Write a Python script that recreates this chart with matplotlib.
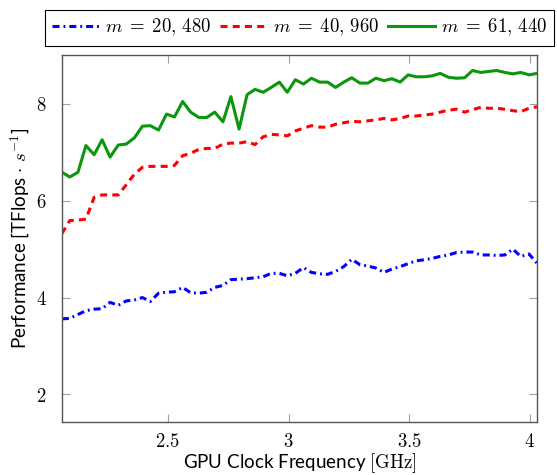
#!/usr/bin/env python3
"""
Sustained performance of the kernel vs GPU clock frequency,
for three problem sizes m.
"""

import matplotlib
matplotlib.use('Agg')
import matplotlib.pyplot as plt
from matplotlib.ticker import FuncFormatter

# GPU clock frequency [GHz]
freq_ghz = [
    2.060, 2.093, 2.127, 2.160, 2.194, 2.227, 2.260, 2.294, 2.327, 2.361,
    2.394, 2.427, 2.461, 2.494, 2.527, 2.561, 2.594, 2.628, 2.661, 2.694,
    2.728, 2.761, 2.795, 2.828, 2.861, 2.895, 2.928, 2.962, 2.995, 3.028,
    3.062, 3.095, 3.129, 3.162, 3.195, 3.229, 3.262, 3.296, 3.329, 3.362,
    3.396, 3.429, 3.463, 3.496, 3.529, 3.563, 3.596, 3.629, 3.663, 3.696,
    3.730, 3.763, 3.797, 3.830, 3.863, 3.897, 3.930, 3.963, 3.997, 4.030,
]

# measured TFlops/s
perf_m20480 = [
    3.56, 3.57, 3.65, 3.73, 3.76, 3.77, 3.90, 3.84, 3.93, 3.95,
    4.00, 3.92, 4.09, 4.11, 4.12, 4.21, 4.10, 4.09, 4.11, 4.21,
    4.25, 4.37, 4.38, 4.39, 4.41, 4.43, 4.50, 4.50, 4.45, 4.50,
    4.62, 4.52, 4.49, 4.48, 4.54, 4.64, 4.79, 4.68, 4.65, 4.61,
    4.52, 4.59, 4.64, 4.70, 4.76, 4.78, 4.81, 4.85, 4.88, 4.93,
    4.94, 4.94, 4.88, 4.88, 4.87, 4.88, 5.00, 4.85, 4.90, 4.71,
]

perf_m40960 = [
    5.32, 5.59, 5.60, 5.62, 6.07, 6.12, 6.12, 6.12, 6.33, 6.55,
    6.69, 6.71, 6.71, 6.71, 6.73, 6.93, 6.98, 7.06, 7.08, 7.08,
    7.17, 7.19, 7.19, 7.22, 7.16, 7.32, 7.37, 7.36, 7.34, 7.44,
    7.50, 7.55, 7.52, 7.52, 7.58, 7.61, 7.64, 7.63, 7.65, 7.67,
    7.70, 7.67, 7.70, 7.75, 7.75, 7.77, 7.79, 7.83, 7.87, 7.89,
    7.83, 7.88, 7.93, 7.91, 7.91, 7.89, 7.86, 7.84, 7.91, 7.94,
]

perf_m61440 = [
    6.59, 6.49, 6.59, 7.14, 6.95, 7.26, 6.90, 7.15, 7.17, 7.30,
    7.54, 7.55, 7.46, 7.79, 7.73, 8.05, 7.83, 7.72, 7.72, 7.83,
    7.63, 8.15, 7.48, 8.19, 8.30, 8.24, 8.34, 8.45, 8.24, 8.50,
    8.41, 8.53, 8.45, 8.45, 8.34, 8.45, 8.54, 8.43, 8.43, 8.53,
    8.48, 8.52, 8.45, 8.60, 8.56, 8.56, 8.58, 8.63, 8.55, 8.53,
    8.54, 8.69, 8.65, 8.67, 8.69, 8.65, 8.62, 8.65, 8.60, 8.63,
]

labels = [r'$m \;=\; 20,\,480$', r'$m \;=\; 40,\,960$', r'$m \;=\; 61,\,440$']
x_ticks = [2.5, 3.0, 3.5, 4.0]
y_ticks = [2, 4, 6, 8]


def math_fmt(v, pos):
    return r'$%g$' % v


def main():
    plt.rcParams['mathtext.fontset'] = 'cm'
    plt.rcParams['font.family'] = ['Lato', 'DejaVu Sans']

    fig = plt.figure(figsize=(5.57, 4.75), dpi=100)
    # axes box: x 62..537 px, y 55..422 px
    ax = fig.add_axes([0.111, 0.1116, 0.853, 0.7726])

    lw = 2.2
    ax.plot(freq_ghz, perf_m20480, color='#0000ff', linewidth=lw,
            dashes=(2.3, 1.3, 0.6, 1.3), label=labels[0])
    ax.plot(freq_ghz, perf_m40960, color='#ff0000', linewidth=lw,
            dashes=(2.3, 1.7), label=labels[1])
    ax.plot(freq_ghz, perf_m61440, color='#0c960c', linewidth=lw,
            linestyle='-', label=labels[2])

    ax.set_xlim(freq_ghz[0], freq_ghz[-1])
    ax.set_ylim(1.43, 9.01)
    ax.set_xticks(x_ticks)
    ax.set_yticks(y_ticks)
    ax.xaxis.set_major_formatter(FuncFormatter(math_fmt))
    ax.yaxis.set_major_formatter(FuncFormatter(math_fmt))
    ax.tick_params(direction='in', length=6, width=0.8, color='#a0a0a0',
                   top=True, right=True, labelsize=13.5)
    ax.tick_params(axis='x', pad=7)
    ax.tick_params(axis='y', pad=11)

    for s in ax.spines.values():
        s.set_color('#555555')
        s.set_linewidth(1.0)

    ax.set_xlabel(r'GPU Clock Frequency $[\mathrm{GHz}]$', fontsize=13.5,
                  labelpad=1)
    ax.set_ylabel(r'Performance [TFlops $\cdot\ s^{-1}$]', fontsize=13.5,
                  labelpad=3)

    leg = ax.legend(loc='lower center', bbox_to_anchor=(0.5, 1.025), ncol=3,
                    fontsize=13.5, frameon=True, fancybox=False,
                    edgecolor='black', framealpha=1.0, handlelength=2.5,
                    handletextpad=0.3, columnspacing=0.5, borderpad=0.4,
                    borderaxespad=0.0)
    leg.get_frame().set_linewidth(0.8)

    fig.savefig('out.png', dpi=100)


if __name__ == "__main__":
    main()
